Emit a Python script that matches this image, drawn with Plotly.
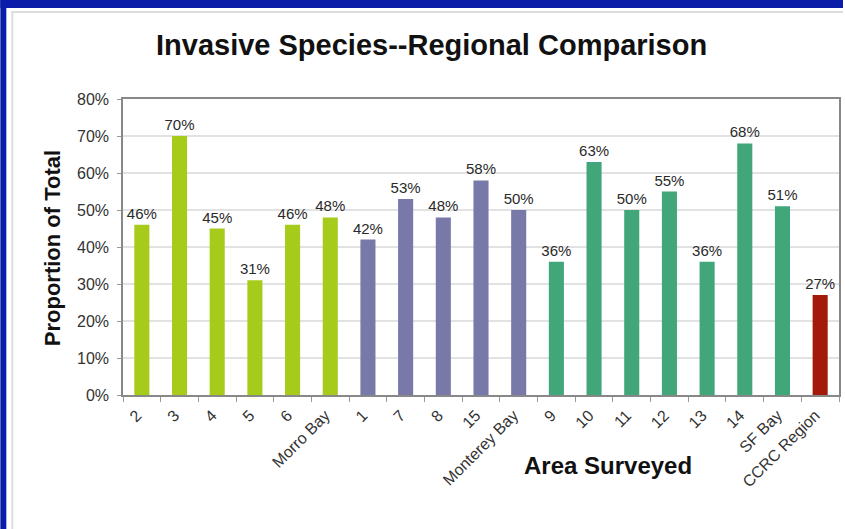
import plotly.graph_objects as go

# Survey areas grouped by region
areas = ["2", "3", "4", "5", "6", "Morro Bay",
         "1", "7", "8", "15", "Monterey Bay",
         "9", "10", "11", "12", "13", "14", "SF Bay",
         "CCRC Region"]
invasive_pct = [46, 70, 45, 31, 46, 48,
                42, 53, 48, 58, 50,
                36, 63, 50, 55, 36, 68, 51,
                27]
region_of_area = (["south"] * 6 + ["monterey"] * 5 + ["north"] * 7 + ["all"])
region_colors = {"south": "#A6CB1B", "monterey": "#7878A9",
                 "north": "#41A679", "all": "#A21A0A"}
y_ticks = [0, 10, 20, 30, 40, 50, 60, 70, 80]

bar_colors = [region_colors[r] for r in region_of_area]
labels = [f"{v}%" for v in invasive_pct]

W, H = 845, 529
ML, MR, MT, MB = 123, 4, 99, 134
pw, ph = W - ML - MR, H - MT - MB


def px_x(x):
    return (x - ML) / pw


def px_y(y):
    return 1 - (y - MT) / ph


fig = go.Figure()
fig.add_trace(go.Bar(
    x=areas, y=invasive_pct,
    marker=dict(color=bar_colors, line=dict(width=0)),
    width=0.4,
    text=labels, textposition="outside", constraintext="none",
    textfont=dict(family="Liberation Sans, Arial", size=15, color="#2a2a2a"),
    cliponaxis=False,
    hoverinfo="x+y",
))

fig.update_layout(
    width=W, height=H,
    margin=dict(l=ML, r=MR, t=MT, b=MB),
    paper_bgcolor="white", plot_bgcolor="white",
    showlegend=False,
    font=dict(family="Liberation Sans, Arial", color="#333"),
    xaxis=dict(
        type="category", tickangle=-45, tickson="boundaries",
        ticks="outside", ticklen=5, tickcolor="#999",
        tickfont=dict(size=16, color="#333"),
        ticklabelstandoff=3, ticklabelshift=-5,
        showline=True, linecolor="#888", linewidth=1.5, mirror=True,
        showgrid=False,
    ),
    yaxis=dict(
        range=[0, 80], tickvals=y_ticks,
        ticktext=[f"{v}%" for v in y_ticks],
        ticks="outside", ticklen=4, tickcolor="#999",
        tickfont=dict(size=16, color="#333"),
        ticklabelstandoff=5,
        showline=True, linecolor="#888", linewidth=1.5, mirror=True,
        showgrid=True, gridcolor="#e2e2e2", gridwidth=1.5,
        zeroline=False,
    ),
    annotations=[
        dict(text="<b>Invasive Species--Regional Comparison</b>",
             xref="paper", yref="paper", x=px_x(432), y=px_y(45),
             showarrow=False, xanchor="center", yanchor="middle",
             font=dict(size=29, color="#111")),
        dict(text="<b>Proportion of Total</b>",
             xref="paper", yref="paper", x=px_x(52), y=px_y(248),
             showarrow=False, textangle=-90, xanchor="center", yanchor="middle",
             font=dict(size=22, color="#111")),
        dict(text="<b>Area Surveyed</b>",
             xref="paper", yref="paper", x=px_x(609), y=px_y(465),
             showarrow=False, xanchor="center", yanchor="middle",
             font=dict(size=24, color="#111")),
    ],
    shapes=[
        # slide frame: blue bands along the top and left edges
        dict(type="rect", xref="paper", yref="paper", layer="below",
             x0=px_x(0), x1=px_x(W), y0=px_y(8), y1=px_y(0),
             fillcolor="#0A1CA8", line=dict(width=0)),
        dict(type="rect", xref="paper", yref="paper", layer="below",
             x0=px_x(0), x1=px_x(6), y0=px_y(H), y1=px_y(0),
             fillcolor="#0A1CA8", line=dict(width=0)),
        # thin inner gray border
        dict(type="line", xref="paper", yref="paper", layer="below",
             x0=px_x(11), x1=px_x(W), y0=px_y(12), y1=px_y(12),
             line=dict(color="#dddddd", width=2)),
        dict(type="line", xref="paper", yref="paper", layer="below",
             x0=px_x(12), x1=px_x(12), y0=px_y(H), y1=px_y(11),
             line=dict(color="#dddddd", width=2)),
    ],
)

fig.write_html("out.html")
